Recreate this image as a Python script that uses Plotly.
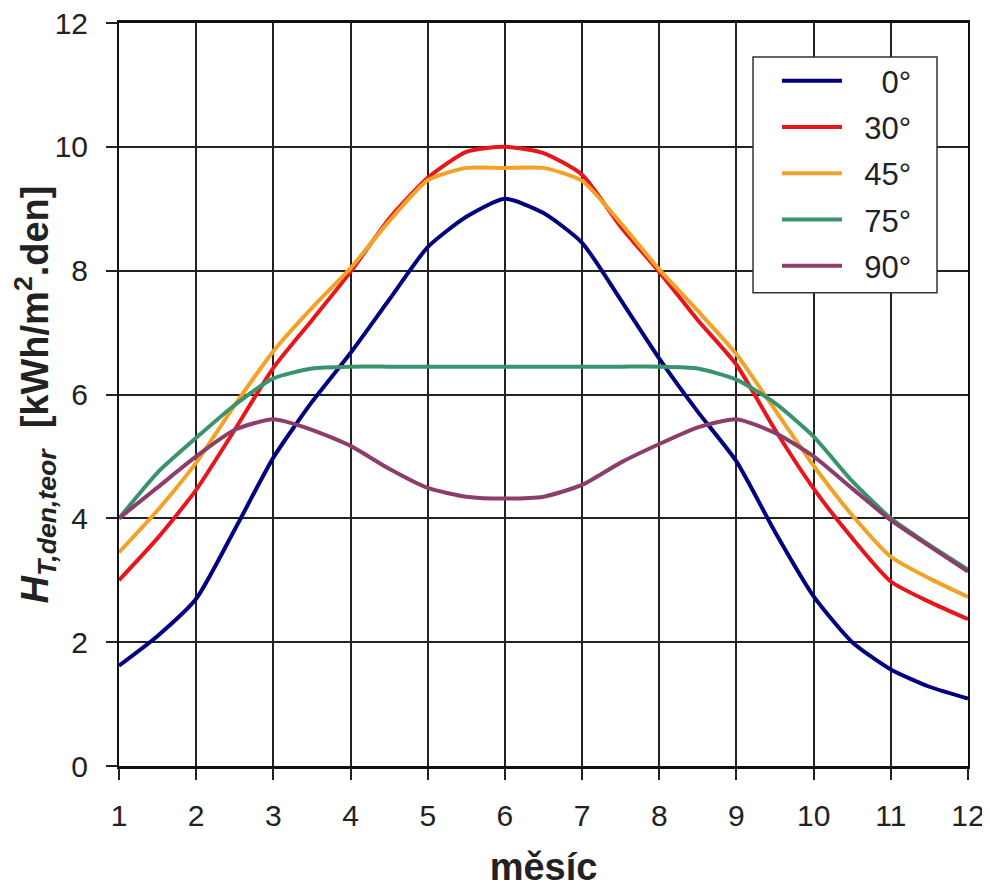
import plotly.graph_objects as go

months = [1, 1.5, 2, 2.5, 3, 3.5, 4, 4.5, 5, 5.5, 6, 6.5, 7, 7.5, 8, 8.5, 9, 9.5, 10, 10.5, 11, 11.5, 12]

h_0 = [1.62, 2.1, 2.7, 3.82, 4.98, 5.88, 6.67, 7.53, 8.38, 8.87, 9.16, 8.93, 8.45, 7.53, 6.58, 5.72, 4.92, 3.78, 2.74, 2.0, 1.56, 1.28, 1.09]
h_30 = [3.0, 3.68, 4.46, 5.43, 6.43, 7.2, 7.98, 8.84, 9.5, 9.92, 10.0, 9.9, 9.55, 8.71, 7.98, 7.2, 6.48, 5.43, 4.48, 3.68, 2.98, 2.65, 2.37]
h_45 = [3.45, 4.13, 4.9, 5.83, 6.7, 7.4, 8.04, 8.8, 9.46, 9.66, 9.66, 9.66, 9.45, 8.77, 8.02, 7.35, 6.65, 5.75, 4.85, 4.05, 3.38, 3.03, 2.73]
h_75 = [4.0, 4.74, 5.3, 5.83, 6.26, 6.42, 6.45, 6.45, 6.45, 6.45, 6.45, 6.45, 6.45, 6.45, 6.45, 6.42, 6.24, 5.86, 5.32, 4.6, 4.0, 3.57, 3.17]
h_90 = [4.0, 4.5, 5.0, 5.43, 5.6, 5.43, 5.17, 4.8, 4.49, 4.35, 4.32, 4.35, 4.54, 4.9, 5.2, 5.47, 5.6, 5.38, 5.0, 4.48, 3.97, 3.55, 3.14]

series_names = ["0°", "30°", "45°", "75°", "90°"]
series_values = [h_0, h_30, h_45, h_75, h_90]
colors = ["#000080", "#E8161B", "#F2A227", "#3A936A", "#8C3D6A"]

x_ticks = list(range(1, 13))
y_ticks = [0, 2, 4, 6, 8, 10, 12]

fig = go.Figure()
for i, (name, vals, col) in enumerate(zip(series_names, series_values, colors)):
    pad = "\u00a0" * (4 if len(name) == 2 else 2)
    fig.add_trace(go.Scatter(
        x=months, y=vals, mode="lines", name=pad + name,
        line=dict(color=col, width=4, shape="spline", smoothing=0.6),
        legendgroup=str(i),
    ))

font_family = "Liberation Sans, Arial, sans-serif"

# legend frame (white box with thin border) behind the legend entries
fig.add_shape(
    type="rect", xref="paper", yref="paper",
    x0=0.7468, x1=0.9635, y0=0.637, y1=0.9543,
    fillcolor="white", line=dict(color="#333333", width=1.5), layer="above",
)

# the page body adds an 8px margin, so the figure is sized/offset to compensate
fig.update_layout(
    width=982, height=880,
    margin=dict(l=111, r=22, t=15, b=122),
    paper_bgcolor="white", plot_bgcolor="white",
    font=dict(family=font_family, color="#222222", size=30),
    showlegend=True,
    legend=dict(
        x=0.775, y=0.9583, xanchor="left", yanchor="top",
        bgcolor="rgba(0,0,0,0)", borderwidth=0,
        font=dict(size=31, family=font_family, color="#222222"),
        tracegroupgap=3, itemwidth=60,
    ),
    xaxis=dict(
        range=[1, 12], tickmode="array", tickvals=x_ticks,
        ticktext=[str(v) for v in x_ticks],
        automargin=False,
        showgrid=True, gridcolor="#222222", gridwidth=1.5,
        showline=True, linecolor="#111111", linewidth=2.5, mirror=True,
        ticks="outside", ticklen=11, tickwidth=2, tickcolor="#222222",
        tickfont=dict(size=30), ticklabelstandoff=10, ticklabeloverflow="allow",
        zeroline=False,
        title=dict(text="<b>měsíc</b>", font=dict(size=38, color="#222222"), standoff=24),
    ),
    yaxis=dict(
        range=[0, 12], tickmode="array", tickvals=y_ticks,
        ticktext=[str(v) for v in y_ticks],
        automargin=False,
        showgrid=True, gridcolor="#222222", gridwidth=1.5,
        showline=True, linecolor="#111111", linewidth=2, mirror=True,
        ticks="outside", ticklen=11, tickwidth=1.5, tickcolor="#222222",
        tickfont=dict(size=30), ticklabelstandoff=12, ticklabeloverflow="allow",
        zeroline=False,
        title=dict(
            text="<b><i>H</i><sub><i>T,den,teor</i></sub>  [kWh/m<sup>2</sup>.den]</b>",
            font=dict(size=38, color="#222222"), standoff=8,
        ),
    ),
)

fig.write_html("out.html")
